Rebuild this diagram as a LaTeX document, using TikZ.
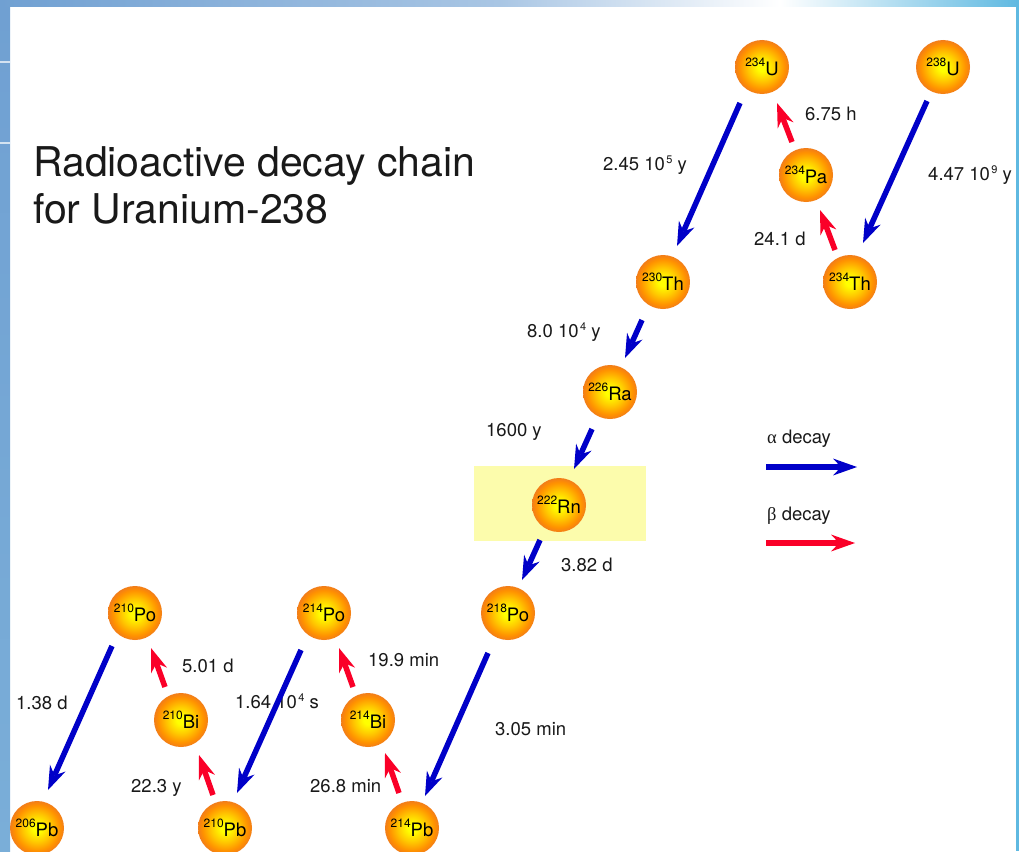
\documentclass[tikz,border=0pt]{standalone}
\usepackage{fontspec}
\setmainfont{TeX Gyre Heros}
\newfontfamily\greekf{Liberation Serif}
\usetikzlibrary{arrows.meta,calc}
\definecolor{ballY}{RGB}{255,255,0}
\definecolor{ballM}{RGB}{255,200,0}
\definecolor{ballO}{RGB}{255,145,0}
\definecolor{ballE}{RGB}{242,125,25}
\definecolor{alphaC}{RGB}{0,0,200}
\definecolor{betaC}{RGB}{250,0,40}
\definecolor{hlC}{RGB}{252,252,172}
\definecolor{edgeL}{RGB}{112,160,210}
\definecolor{edgeL2}{RGB}{122,174,216}
\definecolor{edgeR}{RGB}{95,185,225}
\definecolor{txt}{RGB}{25,25,25}
\pgfdeclareradialshading{ball}{\pgfpoint{0bp}{0bp}}{color(0bp)=(ballY); color(4bp)=(ballY); color(13bp)=(ballM); color(21bp)=(ballO); color(25bp)=(ballE); color(50bp)=(ballE)}
\newcommand\iso[2]{\raisebox{9pt}{\fontsize{12}{12}\selectfont #1}{\fontsize{18.5}{18.5}\selectfont #2}}
\newcommand\ex[1]{\kern1.5pt\raisebox{7pt}{\fontsize{11}{11}\selectfont #1}}
\begin{document}
\begin{tikzpicture}[x=1pt,y=-1pt,
  ball/.style={circle,minimum size=54pt,inner sep=0pt,shade,shading=ball,text=black},
  lab/.style={anchor=base west,inner sep=0pt,font=\fontsize{18.5}{20}\selectfont,text=txt},
  ttl/.style={anchor=base west,inner sep=0pt,font=\fontsize{41}{44}\selectfont,text=txt},
  adecay/.style={draw=alphaC,line width=5.5pt,-{Stealth[length=24pt,width=17pt,inset=8pt,line width=0pt]}},
  bdecay/.style={draw=betaC,line width=5.5pt,-{Stealth[length=24pt,width=17pt,inset=8pt,line width=0pt]}}]
\useasboundingbox (0,0) rectangle (1019,851);
% background frame
\fill[white] (0,0) rectangle (1019,851);
\shade[top color=edgeL,bottom color=edgeL2] (0,0) rectangle (10,851);
\shade[left color=edgeL,right color=edgeL!60!white] (0,0) rectangle (500,7);
\shade[left color=edgeL!60!white,right color=white] (500,0) rectangle (780,7);
\shade[left color=white,right color=edgeR] (780,0) rectangle (1019,7);
\fill[edgeR] (1016,0) rectangle (1019,851);
\draw[white,opacity=0.7,line width=1.5pt] (0,62) -- (10,62);
\draw[white,opacity=0.7,line width=1.5pt] (0,143) -- (10,143);
% highlight
\node[fill=hlC,minimum width=172pt,minimum height=75pt,inner sep=0pt] (box) at (560,503.5) {};
% title
\node[ttl] (t1) at (33,176) {Radioactive decay chain};
\node[ttl] (t2) at (33,223) {for Uranium-238};
% nuclei
\node[ball] (U234) at (762,67) {\iso{234}{U}};
\node[ball] (U238) at (943,67) {\iso{238}{U}};
\node[ball] (Pa234) at (806,175) {\iso{234}{Pa}};
\node[ball] (Th234) at (850,282) {\iso{234}{Th}};
\node[ball] (Th230) at (663,282) {\iso{230}{Th}};
\node[ball] (Ra226) at (610,392) {\iso{226}{Ra}};
\node[ball] (Rn222) at (559,505) {\iso{222}{Rn}};
\node[ball] (Po218) at (508,613) {\iso{218}{Po}};
\node[ball] (Po214) at (324,613) {\iso{214}{Po}};
\node[ball] (Bi214) at (368,720) {\iso{214}{Bi}};
\node[ball] (Pb214) at (412,828) {\iso{214}{Pb}};
\node[ball] (Po210) at (135,613) {\iso{210}{Po}};
\node[ball] (Bi210) at (181,720) {\iso{210}{Bi}};
\node[ball] (Pb210) at (225,828) {\iso{210}{Pb}};
\node[ball] (Pb206) at (37,828) {\iso{206}{Pb}};
% half-life labels
\node[lab] (h1) at (805,120.5) {6.75 h};
\node[lab] (h2) at (603,170) {2.45 10\ex{5} y};
\node[lab] (h3) at (928,180) {4.47 10\ex{9} y};
\node[lab] (h4) at (754,245) {24.1 d};
\node[lab] (h5) at (527,337) {8.0 10\ex{4} y};
\node[lab] (h6) at (486,436) {1600 y};
\node[lab] (h7) at (561,571) {3.82 d};
\node[lab] (h8) at (182,672) {5.01 d};
\node[lab] (h9) at (368,666) {19.9 min};
\node[lab] (h10) at (16,709) {1.38 d};
\node[lab] (h11) at (235,708) {1.64 10\ex{4} s};
\node[lab] (h12) at (495,735) {3.05 min};
\node[lab] (h13) at (131,792) {22.3 y};
\node[lab] (h14) at (310,792) {26.8 min};
% decays
\draw[adecay] ($(U234)+(-22,36)$) -- ($(Th230)+(14,-36)$);
\draw[adecay] ($(U238)+(-16,34)$) -- ($(Th234)+(13,-39)$);
\draw[bdecay] ($(Th234)+(-15,-32)$) -- ($(Pa234)+(14,35)$);
\draw[bdecay] ($(Pa234)+(-14,-33)$) -- ($(U234)+(15,36)$);
\draw[adecay] ($(Th230)+(-21,38)$) -- ($(Ra226)+(15,-34)$);
\draw[adecay] ($(Ra226)+(-18,37)$) -- ($(Rn222)+(15,-36)$);
\draw[adecay] ($(Rn222)+(-19,35)$) -- ($(Po218)+(14,-33)$);
\draw[adecay] ($(Po218)+(-20,40)$) -- ($(Pb214)+(13,-32)$);
\draw[bdecay] ($(Pb214)+(-13,-35)$) -- ($(Bi214)+(17,33)$);
\draw[bdecay] ($(Bi214)+(-15,-33)$) -- ($(Po214)+(15,35)$);
\draw[adecay] ($(Po214)+(-23,37)$) -- ($(Pb210)+(12,-35)$);
\draw[bdecay] ($(Pb210)+(-12,-33)$) -- ($(Bi210)+(18,35)$);
\draw[bdecay] ($(Bi210)+(-16,-33)$) -- ($(Po210)+(16,35)$);
\draw[adecay] ($(Po210)+(-23,33)$) -- ($(Pb206)+(11,-38)$);
% legend
\node[lab] (la) at (767,443) {{\greekf α} decay};
\node[lab] (lb) at (767,520) {{\greekf β} decay};
\coordinate (a1) at (766,467); \coordinate (a2) at (857,467);
\coordinate (b1) at (766,543); \coordinate (b2) at (855,543);
\draw[adecay] (a1) -- (a2);
\draw[bdecay] (b1) -- (b2);
\end{tikzpicture}
\end{document}
